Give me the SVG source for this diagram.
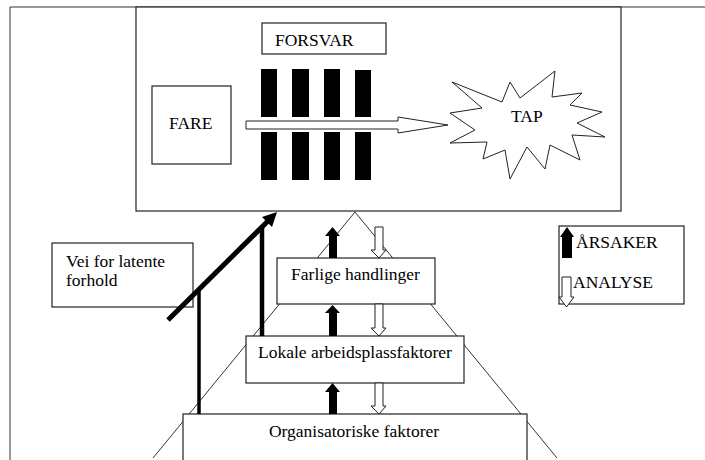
<svg xmlns="http://www.w3.org/2000/svg" width="705" height="460" viewBox="0 0 705 460">
<style>
.box{fill:#fff;stroke:#222;stroke-width:1.2}
.t{font-family:"Liberation Serif","Times New Roman",serif;font-size:17.5px;fill:#000}
.c{text-anchor:middle}
.thin{stroke:#333;stroke-width:1;fill:none}
.blk{fill:#000}
.wht{fill:#fff;stroke:#222;stroke-width:1}
</style>
<rect width="705" height="460" fill="#fff"/>
<path d="M10,460 V7 H705" class="thin" stroke="#555"/>

<g id="main">
<rect class="box" x="136" y="7" width="485" height="204"/>
</g>

<g id="pyramid-lines">
<path class="thin" d="M153,458 L355,212 L557,458"/>
</g>

<g id="forsvar">
<rect class="box" x="262" y="23" width="124" height="31"/>
<text class="t" x="275" y="46">FORSVAR</text>
</g>

<g id="barrierer">
<rect class="blk" x="261" y="69" width="16" height="48"/>
<rect class="blk" x="292" y="69" width="17" height="48"/>
<rect class="blk" x="324" y="69" width="16" height="48"/>
<rect class="blk" x="355" y="70" width="16" height="47"/>
<rect class="blk" x="261" y="132" width="16" height="48"/>
<rect class="blk" x="292" y="132" width="17" height="48"/>
<rect class="blk" x="324" y="132" width="16" height="48"/>
<rect class="blk" x="355" y="132" width="16" height="48"/>
</g>

<g id="fare">
<rect class="box" x="152" y="86" width="79" height="78"/>
<text class="t" x="169" y="129">FARE</text>
</g>

<g id="tap">
<polygon class="wht" stroke-width="1.3" points="452,82 502,102 510,82 520,98 555,71 552,97 582,93 570,105 602,112 577,123 605,137 572,135 580,160 550,145 545,169 527,147 510,179 505,150 483,159 487,142 450,143 475,130 450,113 482,108"/>
<text class="t" x="511" y="122">TAP</text>
</g>

<g id="farlige">
<rect class="box" x="277" y="258" width="158" height="46"/>
<text class="t c" x="355.5" y="280">Farlige handlinger</text>
</g>

<g id="lokale">
<rect class="box" x="246" y="336" width="218" height="47"/>
<text class="t c" x="355" y="358">Lokale arbeidsplassfaktorer</text>
</g>

<g id="organisatoriske">
<rect class="box" x="183" y="414" width="344" height="60"/>
<text class="t c" x="354" y="437">Organisatoriske faktorer</text>
</g>

<g id="vei">
<rect class="box" x="52" y="243" width="141" height="64"/>
<text class="t" x="66" y="267">Vei for latente</text>
<text class="t" x="66" y="286">forhold</text>
</g>

<g id="legend">
<rect class="box" x="559" y="226" width="125" height="78"/>
<polygon class="blk" points="562,258 562,237 560,237 567,227 574,237 572,237 572,258"/>
<text class="t" x="576" y="248">ÅRSAKER</text>
<polygon class="wht" points="562,277 571,277 571,297 574,297 566.5,307 559,297 562,297"/>
<text class="t" x="573" y="288">ANALYSE</text>
</g>

<g id="connectors">
<path d="M246,125 V121 H398 V117 L448,125 L398,133 V129 H246 Z" class="wht"/>
<line x1="168" y1="320" x2="268" y2="221" stroke="#000" stroke-width="5"/>
<polygon class="blk" points="277,212 272,227 262,217"/>
<line x1="199" y1="290" x2="199" y2="414" stroke="#000" stroke-width="3.5"/>
<line x1="262" y1="227" x2="262" y2="336" stroke="#000" stroke-width="4.5"/>
<polygon class="blk" points="329,258 329,236 325,236 332.5,227 340,236 337,236 337,258"/>
<polygon class="blk" points="329,336 329,313 325,313 332.5,305 340,313 337,313 337,336"/>
<polygon class="blk" points="329,414 329,392 325,392 332.5,383 340,392 337,392 337,414"/>
<polygon class="wht" points="375,227 383,227 383,250 386,250 379,258 371,250 375,250"/>
<polygon class="wht" points="375,304 383,304 383,328 386,328 379,336 371,328 375,328"/>
<polygon class="wht" points="375,383 383,383 383,406 386,406 379,414 371,406 375,406"/>
</g>
</svg>
